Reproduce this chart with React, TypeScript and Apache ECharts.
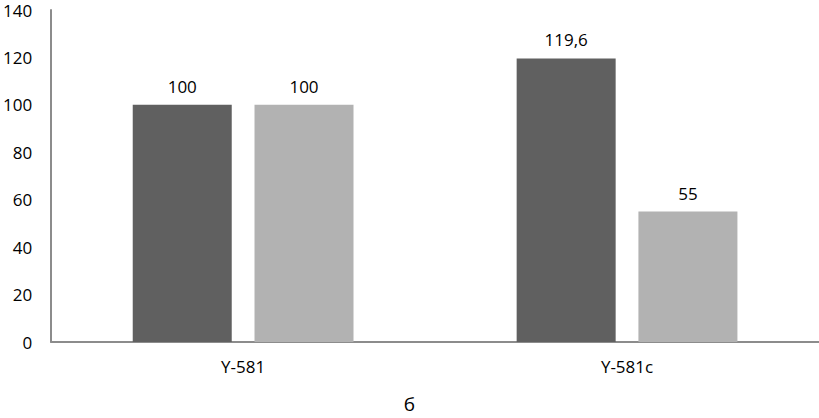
import React, { useEffect, useRef } from "react";
import * as echarts from "echarts";

const categories = ["Y-581", "Y-581c"];
const seriesA = [100, 119.6];
const seriesB = [100, 55];
const yMin = 0;
const yMax = 140;
const yInterval = 20;
const caption = "б";

const fmt = (v: number) => String(v).replace(".", ",");

export default function App() {
  const ref = useRef<HTMLDivElement>(null);
  useEffect(() => {
    if (!ref.current) return;
    const chart = echarts.init(ref.current, undefined, { renderer: "svg" });
    const font = "'Open Sans', 'Noto Sans', sans-serif";
    const labelStyle = {
      show: true,
      position: "top" as const,
      distance: 10,
      color: "#000",
      fontSize: 17,
      fontFamily: font,
      formatter: (p: any) => fmt(p.value),
    };
    chart.setOption({
      animation: false,
      grid: { left: 48, right: 0, top: 10, bottom: 76, containLabel: false },
      xAxis: {
        type: "category",
        data: categories,
        axisLine: { show: true, lineStyle: { color: "#8c8c8c", width: 2 } },
        axisTick: { show: false },
        axisLabel: { color: "#000", fontSize: 17, fontFamily: font, margin: 16 },
      },
      yAxis: {
        type: "value",
        min: yMin,
        max: yMax,
        interval: yInterval,
        axisLine: { show: true, lineStyle: { color: "#8c8c8c", width: 2 } },
        axisTick: { show: false },
        splitLine: { show: false },
        axisLabel: { color: "#000", fontSize: 17, lineHeight: 18, fontFamily: font, margin: 19 },
      },
      series: [
        {
          type: "bar",
          data: seriesA,
          barWidth: 99,
          barGap: "23%",
          itemStyle: { color: "#606060" },
          label: labelStyle,
        },
        {
          type: "bar",
          data: seriesB,
          barWidth: 99,
          itemStyle: { color: "#b2b2b2" },
          label: labelStyle,
        },
      ],
      graphic: [
        {
          type: "text",
          left: "center",
          top: 394,
          style: { text: caption, fill: "#000", fontSize: 19, fontFamily: font },
        },
      ],
    });
    return () => chart.dispose();
  }, []);
  return (
    <div
      ref={ref}
      style={{ position: "fixed", left: 0, top: 0, width: 819, height: 418, background: "#fff" }}
    />
  );
}
